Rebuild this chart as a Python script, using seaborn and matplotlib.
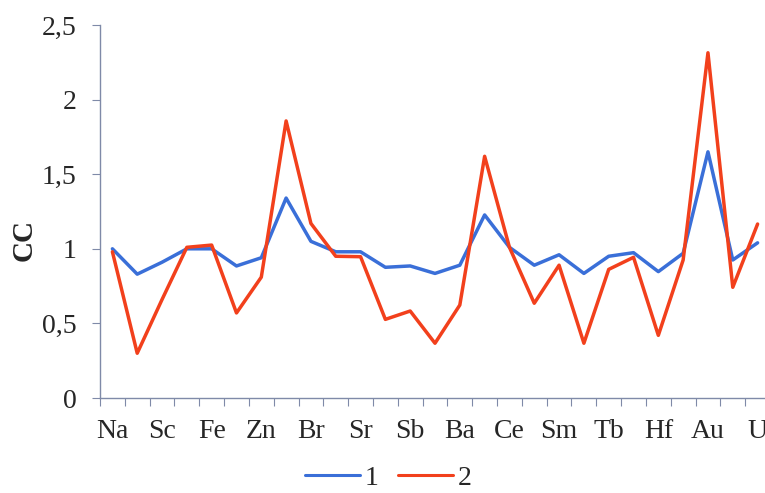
import matplotlib
matplotlib.use("Agg")
import matplotlib.pyplot as plt
import seaborn as sns
import pandas as pd
import numpy as np
from matplotlib.lines import Line2D

elements = ["Na", "Ca", "Sc", "Cr", "Fe", "Co", "Zn", "As", "Br", "Rb", "Sr", "Ag", "Sb", "Cs",
            "Ba", "La", "Ce", "Nd", "Sm", "Eu", "Tb", "Yb", "Hf", "Ta", "Au", "Th", "U"]
labeled = ["Na", "Sc", "Fe", "Zn", "Br", "Sr", "Sb", "Ba", "Ce", "Sm", "Tb", "Hf", "Au", "U"]
series1 = [1.00, 0.83, 0.91, 1.00, 1.00, 0.885, 0.94, 1.34, 1.05, 0.98, 0.98, 0.876, 0.885, 0.835,
           0.89, 1.227, 1.01, 0.89, 0.96, 0.835, 0.95, 0.974, 0.847, 0.97, 1.65, 0.925, 1.04]
series2 = [0.98, 0.30, 0.66, 1.01, 1.025, 0.57, 0.81, 1.857, 1.17, 0.95, 0.947, 0.527, 0.583, 0.367,
           0.623, 1.62, 1.01, 0.635, 0.89, 0.367, 0.862, 0.943, 0.42, 0.925, 2.314, 0.742, 1.166]
yticks = [0, 0.5, 1, 1.5, 2, 2.5]
ytick_labels = ["0", "0,5", "1", "1,5", "2", "2,5"]
series_names = ["1", "2"]
colors = {"1": "#3a6fd8", "2": "#f2401c"}

df = pd.DataFrame({
    "element": elements * 2,
    "CC": series1 + series2,
    "series": [series_names[0]] * len(elements) + [series_names[1]] * len(elements),
})

sns.set_style("white")
plt.rcParams["font.family"] = ["Liberation Serif", "DejaVu Serif"]

fig = plt.figure(figsize=(7.65, 4.93), dpi=100)
ax = fig.add_axes([100 / 765, 95 / 493, 670 / 765, 373 / 493])

sns.lineplot(data=df, x="element", y="CC", hue="series", palette=colors,
             sort=False, linewidth=2.5, ax=ax, legend=False)

ax.set_xlim(-0.5, len(elements) - 0.5)
ax.set_ylim(0, 2.5)
pos = [elements.index(e) for e in labeled]
ax.set_xticks(pos)
ax.set_xticklabels(labeled, fontsize=20)
ax.set_xticks(np.arange(-0.5, len(elements), 1.0), minor=True)
ax.tick_params(axis="x", which="major", bottom=False, length=0, pad=15)
ax.tick_params(axis="x", which="minor", bottom=True, length=6, width=0.8,
               color="#7f8aa8", direction="out")
ax.set_yticks(yticks)
ax.set_yticklabels(ytick_labels, fontsize=20)
ax.tick_params(axis="y", which="major", left=True, length=6, width=0.8,
               color="#7f8aa8", direction="out", pad=11)
ax.set_xlabel("")
ax.set_ylabel("CC", fontsize=21, fontweight="bold")
ax.yaxis.set_label_coords(-62 / 670, 158 / 373)

for s in ["top", "right"]:
    ax.spines[s].set_visible(False)
for s in ["left", "bottom"]:
    ax.spines[s].set_color("#7f8aa8")
    ax.spines[s].set_linewidth(1.0)

handles = [Line2D([], [], color=colors[n], linewidth=2.2) for n in series_names]
fig.legend(handles, series_names, loc="center", bbox_to_anchor=(388 / 765, 1 - 478 / 493),
           ncol=2, frameon=False, fontsize=20, handlelength=2.0, handletextpad=0.15,
           columnspacing=0.7, borderpad=0.1)

fig.savefig("out.png", dpi=100)
